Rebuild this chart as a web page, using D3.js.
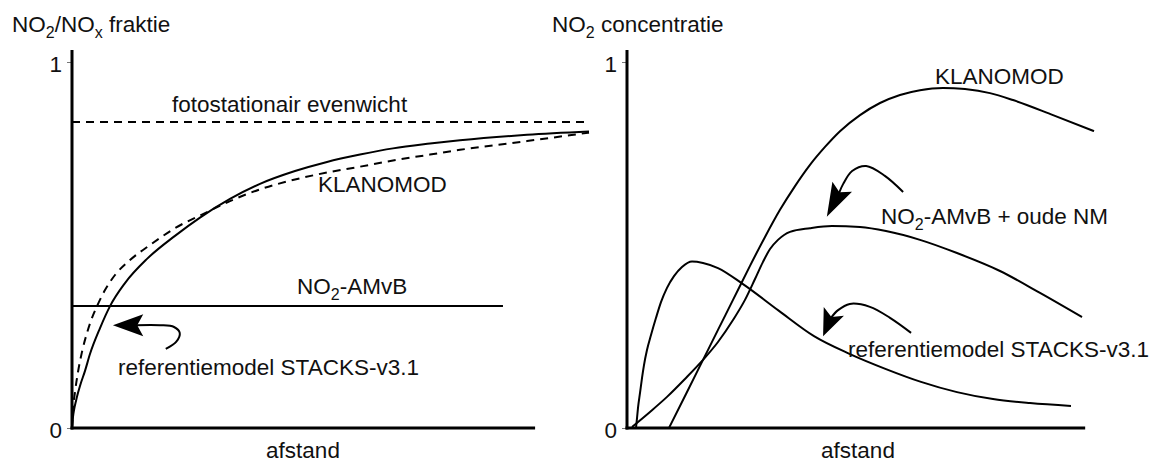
<!DOCTYPE html>
<html><head><meta charset="utf-8">
<script src="https://cdn.jsdelivr.net/npm/d3@7"></script>
<style>
body{margin:0;background:#fff;}
text{font-family:"Liberation Sans",Arial,sans-serif;fill:#111;}
</style></head>
<body><svg id="c" width="1159" height="462"></svg>
<script>
// ---------- data (x = afstand 0..100, y = relative value 0..1) ----------
const yTicks = [0, 1];
const yTickLabels = ["0", "1"];

// left panel: NO2/NOx fraction
const leftEquilibrium = [[0, 0.836], [99.4, 0.836]];
const leftAMvB = [[0, 0.333], [83.2, 0.333]];
const leftKlanomodX = [0, 0.19, 0.39, 0.77, 1.16, 1.54, 2.51, 3.47, 5.41, 7.34, 10.23, 14.48, 19.88, 24.71, 30.5, 36.29, 43.05, 49.23, 55.6, 61.97, 69.11, 74.9, 87.84, 99.81];
const leftKlanomodY = [0, 0.030, 0.049, 0.074, 0.096, 0.115, 0.156, 0.202, 0.273, 0.333, 0.396, 0.462, 0.525, 0.575, 0.626, 0.667, 0.702, 0.727, 0.747, 0.764, 0.777, 0.786, 0.801, 0.810];
const leftStacksX = [0, 0.19, 0.58, 1.16, 1.93, 2.9, 3.86, 4.83, 6.37, 8.3, 11.2, 15.06, 19.88, 25.68, 30.5, 36.29, 43.05, 49.23, 55.6, 61.97, 69.11, 74.9, 87.84, 99.81];
const leftStacksY = [0, 0.049, 0.098, 0.153, 0.208, 0.260, 0.301, 0.333, 0.377, 0.418, 0.459, 0.5, 0.546, 0.587, 0.620, 0.652, 0.679, 0.698, 0.714, 0.731, 0.747, 0.760, 0.784, 0.807];

// right panel: NO2 concentration
const rightKlanomodX = [8.97, 12.61, 16.24, 19.44, 22.65, 26.28, 29.49, 32.69, 35.9, 39.1, 42.31, 45.51, 49.79, 54.06, 58.33, 62.61, 67.52, 72.22, 77.56, 82.48, 91.03, 99.79];
const rightKlanomodY = [0, 0.093, 0.186, 0.268, 0.350, 0.443, 0.522, 0.596, 0.661, 0.719, 0.768, 0.811, 0.855, 0.888, 0.910, 0.923, 0.929, 0.926, 0.915, 0.896, 0.855, 0.811];
const rightAMvBX = [1.07, 4.91, 8.55, 12.39, 16.24, 19.44, 22.65, 25.21, 27.35, 29.06, 30.56, 32.26, 34.83, 39.1, 43.8, 49.79, 55.34, 62.61, 70.51, 79.7, 88.25, 97.22];
const rightAMvBY = [0.003, 0.044, 0.085, 0.134, 0.186, 0.235, 0.295, 0.350, 0.407, 0.454, 0.489, 0.514, 0.536, 0.546, 0.552, 0.549, 0.538, 0.514, 0.478, 0.429, 0.369, 0.303];
const rightStacksX = [1.92, 2.14, 2.35, 2.78, 3.21, 3.63, 4.27, 5.13, 6.2, 7.26, 8.55, 10.04, 11.75, 13.89, 16.24, 19.44, 24.79, 32.48, 39.96, 47.65, 55.34, 62.82, 70.51, 78.21, 86.11, 94.87];
const rightStacksY = [0, 0.027, 0.055, 0.096, 0.137, 0.172, 0.213, 0.254, 0.301, 0.344, 0.383, 0.415, 0.44, 0.455, 0.451, 0.437, 0.393, 0.320, 0.251, 0.202, 0.161, 0.126, 0.098, 0.079, 0.068, 0.06];

// axis extents
const leftAxisEnd = 89.4, rightAxisEnd = 97.9, yAxisTop = 1.033;

// annotation arrows (stem points, last point = notch) and tip
const leftArrowStem = [[18.1, 0.216], [20.1, 0.235], [20.8, 0.26], [19.7, 0.276], [17.0, 0.281], [12.4, 0.281]];
const leftArrowTip = [7.9, 0.281];
const rightArrow1Stem = [[59.0, 0.645], [55.1, 0.689], [51.1, 0.716], [48.1, 0.702], [46.2, 0.667], [45.3, 0.642]];
const rightArrow1Tip = [42.7, 0.577];
const rightArrow2Stem = [[60.7, 0.26], [56.2, 0.301], [51.9, 0.331], [47.6, 0.339], [45.1, 0.322], [43.6, 0.301]];
const rightArrow2Tip = [41.9, 0.251];

// ---------- drawing ----------
const svg = d3.select("#c");
const FS = 22.5, SUB = 16;
const xL = d3.scaleLinear().domain([0, 100]).range([72, 590]);
const xR = d3.scaleLinear().domain([0, 100]).range([627, 1095]);
const y = d3.scaleLinear().domain([0, 1]).range([428, 62]);

const zip = (a, b) => a.map((v, i) => [v, b[i]]);

function panel(x) {
  const g = svg.append("g");
  const ax = d3.axisLeft(y).tickValues(yTicks).tickFormat((d, i) => yTickLabels[i]).tickSize(5).tickPadding(5);
  const ag = g.append("g").attr("transform", `translate(${x(0)},0)`).call(ax);
  ag.attr("font-size", FS).attr("font-family", '"Liberation Sans",Arial,sans-serif');
  ag.select(".domain").remove();
  ag.selectAll(".tick line").attr("stroke", "#777").attr("stroke-width", 1);
  ag.selectAll(".tick text").attr("font-size", FS).attr("dy", "0.42em").attr("fill", "#111");
  return g;
}
function axes(g, x, end) {
  g.append("line").attr("x1", x(0)).attr("x2", x(0)).attr("y1", y(yAxisTop)).attr("y2", y(0) + 1.5)
    .attr("stroke", "#000").attr("stroke-width", 3);
  g.append("line").attr("x1", x(0) - 1.5).attr("x2", x(end)).attr("y1", y(0)).attr("y2", y(0))
    .attr("stroke", "#000").attr("stroke-width", 3);
}
function curve(g, x, pts, dashed, kind) {
  const line = d3.line().x(d => x(d[0])).y(d => y(d[1])).curve(kind || d3.curveMonotoneX);
  g.append("path").attr("d", line(pts)).attr("fill", "none").attr("stroke", "#000")
    .attr("stroke-width", 2).attr("stroke-dasharray", dashed ? "8,6" : null);
}
function arrow(g, x, stem, tip) {
  const line = d3.line().x(d => x(d[0])).y(d => y(d[1])).curve(d3.curveCatmullRom.alpha(0.5));
  g.append("path").attr("d", line(stem)).attr("fill", "none").attr("stroke", "#000").attr("stroke-width", 2);
  const nx = x(stem[stem.length - 1][0]), ny = y(stem[stem.length - 1][1]);
  const tx = x(tip[0]), ty = y(tip[1]);
  const dx = tx - nx, dy = ty - ny, L = Math.hypot(dx, dy);
  const ux = dx / L, uy = dy / L, px = -uy, py = ux;
  const len = L + 7, half = 11;
  const bx = tx - ux * len, by = ty - uy * len;
  const p = [[tx, ty], [bx + px * half, by + py * half], [nx - ux * 1, ny - uy * 1], [bx - px * half, by - py * half]];
  g.append("path").attr("d", "M" + p.map(q => q.join(",")).join("L") + "Z").attr("fill", "#000");
}
function label(g, xp, yp, parts, anchor) {
  const t = g.append("text").attr("x", xp).attr("y", yp).attr("font-size", FS).attr("text-anchor", anchor || "start");
  let shift = 0;
  parts.forEach(p => {
    if (typeof p === "string") {
      t.append("tspan").attr("font-size", FS).attr("dy", -shift).text(p);
      shift = 0;
    } else {
      t.append("tspan").attr("font-size", SUB).attr("dy", 6 - shift).text(p.sub);
      shift = 6;
    }
  });
  return t;
}

// left panel
const gL = panel(xL);
curve(gL, xL, leftEquilibrium, true, d3.curveLinear);
curve(gL, xL, leftAMvB, false, d3.curveLinear);
curve(gL, xL, zip(leftStacksX, leftStacksY), true);
curve(gL, xL, zip(leftKlanomodX, leftKlanomodY), false);
axes(gL, xL, leftAxisEnd);
arrow(gL, xL, leftArrowStem, leftArrowTip);
label(gL, 12, 32, ["NO", {sub: "2"}, "/NO", {sub: "x"}, " fraktie"]);
label(gL, 172, 112, ["fotostationair evenwicht"]);
label(gL, 318, 192, ["KLANOMOD"]);
label(gL, 297, 294, ["NO", {sub: "2"}, "-AMvB"]);
label(gL, 118, 375, ["referentiemodel STACKS-v3.1"]);
label(gL, 303, 458, ["afstand"], "middle");

// right panel
const gR = panel(xR);
curve(gR, xR, zip(rightKlanomodX, rightKlanomodY), false);
curve(gR, xR, zip(rightAMvBX, rightAMvBY), false);
curve(gR, xR, zip(rightStacksX, rightStacksY), false);
axes(gR, xR, rightAxisEnd);
arrow(gR, xR, rightArrow1Stem, rightArrow1Tip);
arrow(gR, xR, rightArrow2Stem, rightArrow2Tip);
label(gR, 552, 32, ["NO", {sub: "2"}, " concentratie"]);
label(gR, 935, 84, ["KLANOMOD"]);
label(gR, 881, 224, ["NO", {sub: "2"}, "-AMvB + oude NM"]);
label(gR, 848, 357, ["referentiemodel STACKS-v3.1"]);
label(gR, 858, 458, ["afstand"], "middle");
</script></body></html>
